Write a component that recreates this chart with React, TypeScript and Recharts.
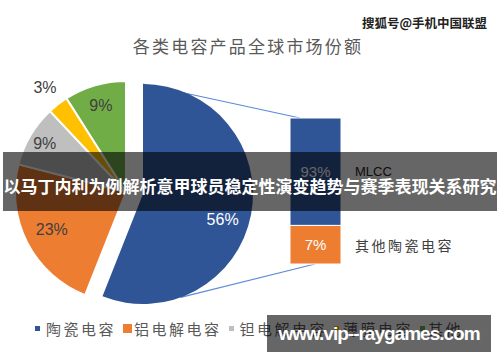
import React from 'react';
import { PieChart, Pie, Cell, BarChart, Bar, XAxis, YAxis, LabelList } from 'recharts';

const title = '各类电容产品全球市场份额';
const categories = ['陶瓷电容', '铝电解电容', '钽电解电容', '薄膜电容', '其他'];
const shares = [56, 23, 9, 3, 9];
const colors = ['#2F5597', '#ED7D31', '#BFBFBF', '#FFC000', '#70AD47'];
const subCategories = ['MLCC', '其他陶瓷电容'];
const subShares = [93, 7];
const subColors = ['#2F5597', '#ED7D31'];
const bannerText = '以马丁内利为例解析意甲球员稳定性演变趋势与赛季表现关系研究';
const watermarkTop = '搜狐号@手机中国联盟';
const watermarkBottom = 'www.vip--raygames.com';

const pieData = categories.map((name, i) => ({ name, value: shares[i] }));
const barData = [{ name: categories[0], mlcc: subShares[0], other: subShares[1] }];

const RAD = Math.PI / 180;
const labelRadiusFactor = [0.76, 0.75, 0.85, 1.19, 0.81];
const labelAngleShift = [-7, 0, 0, 0, 0];
const markerSize = [5, 9, 5, 5, 5];
const markerGap = [6, 2, 6, 4, 3];

const CJK = '"Noto Sans CJK SC", "Noto Sans", sans-serif';
const NUM = '"Liberation Sans", Arial, sans-serif';

const REST = { cx: 126, cy: 192, r: 111 };
const MAIN = { cx: 143, cy: 194, r: 110 };

function makeLabel(onlyFirst: boolean) {
  return (p: any) => {
    const i = p.index;
    if (onlyFirst ? i !== 0 : i === 0) return null;
    const r = p.outerRadius * labelRadiusFactor[i];
    const ang = p.midAngle + labelAngleShift[i];
    const x = p.cx + r * Math.cos(-ang * RAD);
    const y = p.cy + r * Math.sin(-ang * RAD);
    return (
      <text
        key={`l${i}`}
        x={x}
        y={y}
        textAnchor="middle"
        dominantBaseline="central"
        fill={i === 0 ? '#ffffff' : '#404040'}
        fontSize={16}
        fontFamily={NUM}
      >
        {`${shares[i]}%`}
      </text>
    );
  };
}

const sideLabel = (idx: number) => (p: any) => {
  const { x, y, width, height } = p;
  return (
    <text
      x={x + width + 14}
      y={y + height / 2}
      dominantBaseline="central"
      fill={idx === 0 ? '#262626' : '#404040'}
      fontSize={idx === 0 ? 13 : 14}
      fontFamily={idx === 0 ? NUM : CJK}
      letterSpacing={idx === 0 ? 0 : 2.5}
    >
      {subCategories[idx]}
    </text>
  );
};

export default function App() {
  // connector line endpoints derived from pie geometry
  const topStart = { x: MAIN.cx, y: MAIN.cy - MAIN.r };
  const a = 160 * RAD;
  const botStart = { x: MAIN.cx + MAIN.r * Math.sin(a), y: MAIN.cy - MAIN.r * Math.cos(a) };
  return (
    <div
      style={{
        position: 'absolute',
        left: 0,
        top: 0,
        width: 500,
        height: 362,
        background: '#ffffff',
        overflow: 'hidden',
      }}
    >
      <svg width={500} height={362} style={{ position: 'absolute', left: 0, top: 0 }}>
        <line x1={topStart.x} y1={topStart.y} x2={300} y2={118} stroke="#5B8BD9" strokeWidth={1.2} />
        <line x1={botStart.x} y1={botStart.y} x2={315} y2={264} stroke="#5B8BD9" strokeWidth={1.2} />
      </svg>
      <div
        style={{
          position: 'absolute',
          left: 0,
          top: 33,
          width: 496,
          textAlign: 'center',
          fontFamily: CJK,
          fontSize: 17,
          letterSpacing: 2.2,
          color: '#595959',
        }}
      >
        {title}
      </div>
      <div style={{ position: 'absolute', left: 0, top: 0 }}>
        <PieChart width={500} height={362} margin={{ top: 0, right: 0, bottom: 0, left: 0 }}>
          <Pie
            data={pieData}
            dataKey="value"
            cx={REST.cx}
            cy={REST.cy}
            outerRadius={REST.r}
            startAngle={90}
            endAngle={-270}
            isAnimationActive={false}
            labelLine={false}
            label={makeLabel(false)}
            stroke="#ffffff"
            strokeWidth={2}
          >
            {pieData.map((d, i) => (
              <Cell
                key={d.name}
                fill={i === 0 ? 'transparent' : colors[i]}
                stroke={i === 0 ? 'none' : '#ffffff'}
              />
            ))}
          </Pie>
          <Pie
            data={pieData}
            dataKey="value"
            cx={MAIN.cx}
            cy={MAIN.cy}
            outerRadius={MAIN.r}
            startAngle={90}
            endAngle={-270}
            isAnimationActive={false}
            labelLine={false}
            label={makeLabel(true)}
            stroke="none"
          >
            {pieData.map((d, i) => (
              <Cell key={d.name} fill={i === 0 ? colors[0] : 'transparent'} stroke="none" />
            ))}
          </Pie>
        </PieChart>
      </div>
      <div style={{ position: 'absolute', left: 280, top: 110 }}>
        <BarChart
          width={240}
          height={170}
          data={barData}
          margin={{ top: 8, right: 179, bottom: 16, left: 10 }}
          barCategoryGap={0}
          style={{ overflow: 'visible' }}
        >
          <XAxis dataKey="name" hide />
          <YAxis type="number" hide scale="sqrt" domain={[0, 100]} />
          <Bar dataKey="other" stackId="s" fill={subColors[1]} stroke="#ffffff" strokeWidth={1} isAnimationActive={false}>
            <LabelList dataKey="other" position="center" fill="#ffffff" fontSize={15} fontFamily={NUM} formatter={(v: any) => `${v}%`} />
            <LabelList dataKey="other" content={sideLabel(1)} />
          </Bar>
          <Bar dataKey="mlcc" stackId="s" fill={subColors[0]} stroke="#ffffff" strokeWidth={1} isAnimationActive={false}>
            <LabelList dataKey="mlcc" position="center" fill="#ffffff" fontSize={15} fontFamily={NUM} formatter={(v: any) => `${v}%`} />
            <LabelList dataKey="mlcc" content={sideLabel(0)} />
          </Bar>
        </BarChart>
      </div>
      <div
        style={{
          position: 'absolute',
          left: 35,
          top: 318,
          display: 'flex',
          alignItems: 'center',
          fontFamily: CJK,
          fontSize: 15,
          letterSpacing: 2.5,
          color: '#595959',
          whiteSpace: 'nowrap',
        }}
      >
        {categories.map((c, i) => (
          <div key={c} style={{ display: 'flex', alignItems: 'center', marginRight: 7 }}>
            <span
              style={{
                display: 'inline-block',
                width: markerSize[i],
                height: markerSize[i],
                background: colors[i],
                marginRight: markerGap[i],
              }}
            />
            <span>{c}</span>
          </div>
        ))}
      </div>
      <div
        style={{
          position: 'absolute',
          left: 3,
          top: 152,
          width: 494,
          height: 59,
          background: 'rgba(0,0,0,0.6)',
          color: '#ffffff',
          fontFamily: CJK,
          fontWeight: 700,
          fontSize: 17,
          lineHeight: '59px',
          textAlign: 'center',
          whiteSpace: 'nowrap',
          paddingTop: 4,
          boxSizing: 'border-box',
        }}
      >
        {bannerText}
      </div>
      <div
        style={{
          position: 'absolute',
          left: 267,
          top: 315,
          width: 224,
          height: 37,
          background: 'rgba(0,0,0,0.6)',
          color: '#ffffff',
          fontFamily: NUM,
          fontWeight: 700,
          fontSize: 19,
          letterSpacing: -1,
          lineHeight: '37px',
          textAlign: 'center',
          whiteSpace: 'nowrap',
        }}
      >
        {watermarkBottom}
      </div>
      <div
        style={{
          position: 'absolute',
          left: 362,
          top: 13,
          fontFamily: CJK,
          fontWeight: 700,
          fontSize: 12.5,
          color: '#222222',
          whiteSpace: 'nowrap',
          textShadow: '0 0 2px #fff, 0 0 2px #fff',
        }}
      >
        {watermarkTop}
      </div>
    </div>
  );
}
